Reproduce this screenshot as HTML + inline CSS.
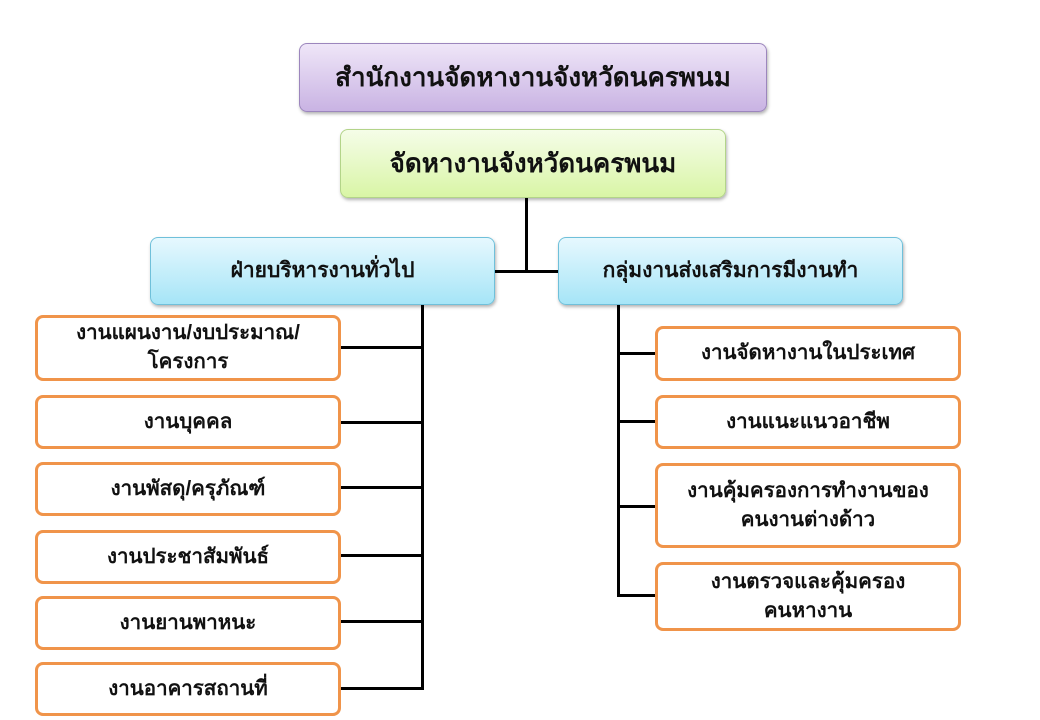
<!DOCTYPE html>
<html><head><meta charset="utf-8"><style>
body{margin:0;width:1040px;height:720px;background:#fff;position:relative;overflow:hidden;font-family:"Liberation Sans","DejaVu Sans",sans-serif;font-weight:bold;color:#111}
.b{position:absolute;box-sizing:border-box;display:flex;align-items:center;justify-content:center;text-align:center;line-height:1.4}
.p{background:linear-gradient(#efe6f8,#c9b3e3);border:1px solid #9c86bd;border-radius:8px;font-size:26px;box-shadow:1px 2px 3px rgba(0,0,0,.3)}
.g{background:linear-gradient(#f5fde8,#d9f5a6);border:1px solid #b3d489;border-radius:8px;font-size:26px;box-shadow:1px 2px 3px rgba(0,0,0,.3)}
.c{background:linear-gradient(#e6f8fe,#a6e5f7);border:1px solid #6fc0da;border-radius:8px;font-size:21px;box-shadow:1px 2px 3px rgba(0,0,0,.3)}
.o{background:#fff;border:3px solid #f0944a;border-radius:8px;font-size:20.5px}
.l{position:absolute;background:#000}
</style></head><body>
<div class="b p" style="left:299px;top:43px;width:468px;height:69px">สำนักงานจัดหางานจังหวัดนครพนม</div>
<div class="b g" style="left:340px;top:129px;width:386px;height:69px">จัดหางานจังหวัดนครพนม</div>
<div class="b c" style="left:150px;top:237px;width:345px;height:68px">ฝ่ายบริหารงานทั่วไป</div>
<div class="b c" style="left:558px;top:237px;width:345px;height:68px">กลุ่มงานส่งเสริมการมีงานทำ</div>
<div class="l" style="left:525px;top:198px;width:3px;height:74px"></div>
<div class="l" style="left:495px;top:270px;width:63px;height:3px"></div>
<div class="l" style="left:421px;top:305px;width:3px;height:385px"></div>
<div class="l" style="left:617px;top:305px;width:3px;height:292px"></div>
<div class="l" style="left:340px;top:346px;width:82px;height:3px"></div>
<div class="l" style="left:340px;top:421px;width:82px;height:3px"></div>
<div class="l" style="left:340px;top:486px;width:82px;height:3px"></div>
<div class="l" style="left:340px;top:554px;width:82px;height:3px"></div>
<div class="l" style="left:340px;top:620px;width:82px;height:3px"></div>
<div class="l" style="left:340px;top:687px;width:82px;height:3px"></div>
<div class="l" style="left:618px;top:352px;width:38px;height:3px"></div>
<div class="l" style="left:618px;top:420px;width:38px;height:3px"></div>
<div class="l" style="left:618px;top:505px;width:38px;height:3px"></div>
<div class="l" style="left:618px;top:594px;width:38px;height:3px"></div>
<div class="b o" style="left:35px;top:315px;width:306px;height:66px">งานแผนงาน/งบประมาณ/<br>โครงการ</div>
<div class="b o" style="left:35px;top:395px;width:306px;height:54px">งานบุคคล</div>
<div class="b o" style="left:35px;top:462px;width:306px;height:54px">งานพัสดุ/ครุภัณฑ์</div>
<div class="b o" style="left:35px;top:530px;width:306px;height:54px">งานประชาสัมพันธ์</div>
<div class="b o" style="left:35px;top:596px;width:306px;height:54px">งานยานพาหนะ</div>
<div class="b o" style="left:35px;top:662px;width:306px;height:54px">งานอาคารสถานที่</div>
<div class="b o" style="left:655px;top:326px;width:306px;height:55px">งานจัดหางานในประเทศ</div>
<div class="b o" style="left:655px;top:395px;width:306px;height:54px">งานแนะแนวอาชีพ</div>
<div class="b o" style="left:655px;top:463px;width:306px;height:85px">งานคุ้มครองการทำงานของ<br>คนงานต่างด้าว</div>
<div class="b o" style="left:655px;top:562px;width:306px;height:69px">งานตรวจและคุ้มครอง<br>คนหางาน</div>
</body></html>
